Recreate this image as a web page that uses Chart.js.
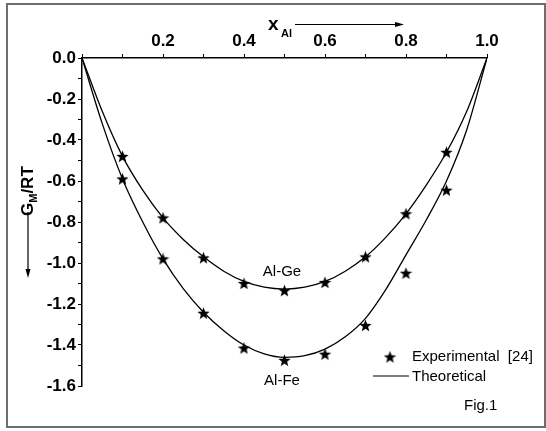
<!DOCTYPE html>
<html><head><meta charset="utf-8">
<script src="https://cdn.jsdelivr.net/npm/chart.js@4/dist/chart.umd.min.js"></script>
<style>html,body{margin:0;padding:0;background:#fff;} canvas{display:block;}</style>
</head><body>
<canvas id="c" width="546" height="431"></canvas>
<script>
// ---- data ----
const expX    = [0.1, 0.2, 0.3, 0.4, 0.5, 0.6, 0.7, 0.8, 0.9];
const expAlGe = [-0.48, -0.78, -0.975, -1.10, -1.135, -1.095, -0.97, -0.76, -0.46];
const expAlFe = [-0.59, -0.98, -1.245, -1.415, -1.475, -1.445, -1.305, -1.05, -0.645];
const theoX    = [0, 0.05, 0.1, 0.15, 0.2, 0.25, 0.3, 0.35, 0.4, 0.45, 0.5, 0.55, 0.6, 0.65, 0.7, 0.75, 0.8, 0.85, 0.9, 0.95, 1.0];
const theoAlGe = [0, -0.26, -0.48, -0.645, -0.78, -0.885, -0.97, -1.04, -1.09, -1.118, -1.127, -1.118, -1.09, -1.04, -0.97, -0.875, -0.76, -0.62, -0.46, -0.26, 0];
const theoAlFe = [0, -0.32, -0.59, -0.80, -0.98, -1.125, -1.24, -1.33, -1.40, -1.443, -1.46, -1.452, -1.42, -1.36, -1.27, -1.13, -0.96, -0.79, -0.60, -0.35, 0];
const xTickLabels = ['0.2', '0.4', '0.6', '0.8', '1.0'];
const yTickLabels = ['0.0', '-0.2', '-0.4', '-0.6', '-0.8', '-1.0', '-1.2', '-1.4', '-1.6'];

const FONT = '"Liberation Sans", Arial, sans-serif';

// filled five-pointed star marker
function makeStar(size) {
  const c = document.createElement('canvas');
  c.width = size; c.height = size;
  const g = c.getContext('2d');
  const cx = size / 2, cy = size / 2 + 0.5, R = size / 2, r = R * 0.42;
  g.beginPath();
  for (let i = 0; i < 10; i++) {
    const rad = i % 2 === 0 ? R : r;
    const a = -Math.PI / 2 + i * Math.PI / 5;
    const px = cx + rad * Math.cos(a), py = cy + rad * Math.sin(a);
    if (i === 0) g.moveTo(px, py); else g.lineTo(px, py);
  }
  g.closePath();
  g.fillStyle = '#000';
  g.fill();
  return c;
}
const star = makeStar(13);

const pts = (xs, ys) => xs.map((x, i) => ({x: x, y: ys[i]}));

const decor = {
  id: 'decor',
  afterDraw(chart) {
    const ctx = chart.ctx;
    ctx.save();
    // outer frame
    ctx.strokeStyle = '#6e6e6e';
    ctx.lineWidth = 2;
    ctx.strokeRect(7, 4, 538, 423);

    ctx.fillStyle = '#000';
    ctx.strokeStyle = '#000';
    // x axis title with subscript
    ctx.textBaseline = 'alphabetic';
    ctx.textAlign = 'left';
    ctx.font = 'bold 19px ' + FONT;
    ctx.fillText('x', 268, 30);
    ctx.font = 'bold 11px ' + FONT;
    ctx.fillText('Al', 281, 37);
    // arrow right
    ctx.lineWidth = 1.2;
    ctx.beginPath(); ctx.moveTo(295, 24.5); ctx.lineTo(396, 24.5); ctx.stroke();
    ctx.beginPath(); ctx.moveTo(404, 24.5); ctx.lineTo(395, 22); ctx.lineTo(395, 27); ctx.closePath(); ctx.fill();

    // y axis title rotated
    ctx.save();
    ctx.translate(33, 216);
    ctx.rotate(-Math.PI / 2);
    ctx.font = 'bold 17px ' + FONT;
    ctx.fillText('G', 0, 0);
    let w = ctx.measureText('G').width;
    ctx.font = 'bold 11px ' + FONT;
    ctx.fillText('M', w, 4);
    w += ctx.measureText('M').width;
    ctx.font = 'bold 17px ' + FONT;
    ctx.fillText('/RT', w, 0);
    ctx.restore();
    // arrow down
    ctx.beginPath(); ctx.moveTo(28, 212); ctx.lineTo(28, 270); ctx.stroke();
    ctx.beginPath(); ctx.moveTo(28, 278); ctx.lineTo(25.5, 269); ctx.lineTo(30.5, 269); ctx.closePath(); ctx.fill();

    // curve labels
    ctx.font = '15px ' + FONT;
    ctx.textAlign = 'center';
    ctx.textBaseline = 'middle';
    ctx.fillText('Al-Ge', 282, 272);
    ctx.fillText('Al-Fe', 282, 381);

    // legend
    ctx.textAlign = 'left';
    ctx.drawImage(star, 390 - 6.5, 357 - 6.5);
    ctx.fillText('Experimental  [24]', 412, 357);
    ctx.lineWidth = 1.2;
    ctx.beginPath(); ctx.moveTo(373, 376); ctx.lineTo(409, 376); ctx.stroke();
    ctx.fillText('Theoretical', 412, 377);

    ctx.fillText('Fig.1', 464, 406);
    ctx.restore();
  }
};

new Chart(document.getElementById('c'), {
  type: 'scatter',
  data: {
    datasets: [
      { label: 'Al-Ge theoretical', data: pts(theoX, theoAlGe), showLine: true, borderColor: '#000', borderWidth: 1.3, pointRadius: 0, cubicInterpolationMode: 'monotone', fill: false },
      { label: 'Al-Fe theoretical', data: pts(theoX, theoAlFe), showLine: true, borderColor: '#000', borderWidth: 1.3, pointRadius: 0, cubicInterpolationMode: 'monotone', fill: false },
      { label: 'Al-Ge experimental', data: pts(expX, expAlGe), showLine: false, pointStyle: star, pointRadius: 6 },
      { label: 'Al-Fe experimental', data: pts(expX, expAlFe), showLine: false, pointStyle: star, pointRadius: 6 }
    ]
  },
  options: {
    responsive: false,
    animation: false,
    events: [],
    layout: { padding: { left: 0, top: 0, right: 59, bottom: 45 } },
    plugins: { legend: { display: false }, tooltip: { enabled: false } },
    scales: {
      x: {
        type: 'linear', position: 'top', min: 0, max: 1,
        afterFit(s) { s.height = 58; },
        border: { display: true, color: '#000', width: 1.5 },
        grid: { display: true, drawOnChartArea: false, drawTicks: true, tickLength: 4, color: '#000', lineWidth: 1 },
        ticks: {
          stepSize: 0.1, autoSkip: false, maxRotation: 0, padding: 2, color: '#000',
          font: { family: FONT, size: 17, weight: 'bold' },
          callback(v) {
            const k = Math.round(v * 10);
            if (k % 2 !== 0 || k === 0) return '';
            return xTickLabels[k / 2 - 1];
          }
        }
      },
      y: {
        type: 'linear', position: 'left', min: -1.6, max: 0,
        afterFit(s) { s.width = 82; },
        border: { display: true, color: '#000', width: 1.5 },
        grid: { display: true, drawOnChartArea: false, drawTicks: true, tickLength: 4, color: '#000', lineWidth: 1 },
        ticks: {
          stepSize: 0.1, autoSkip: false, padding: 2, color: '#000',
          font: { family: FONT, size: 17, weight: 'bold' },
          callback(v) {
            const k = Math.round(-v * 10);
            if (k % 2 !== 0) return '';
            return yTickLabels[k / 2];
          }
        }
      }
    }
  },
  plugins: [decor]
});
</script>
</body></html>
